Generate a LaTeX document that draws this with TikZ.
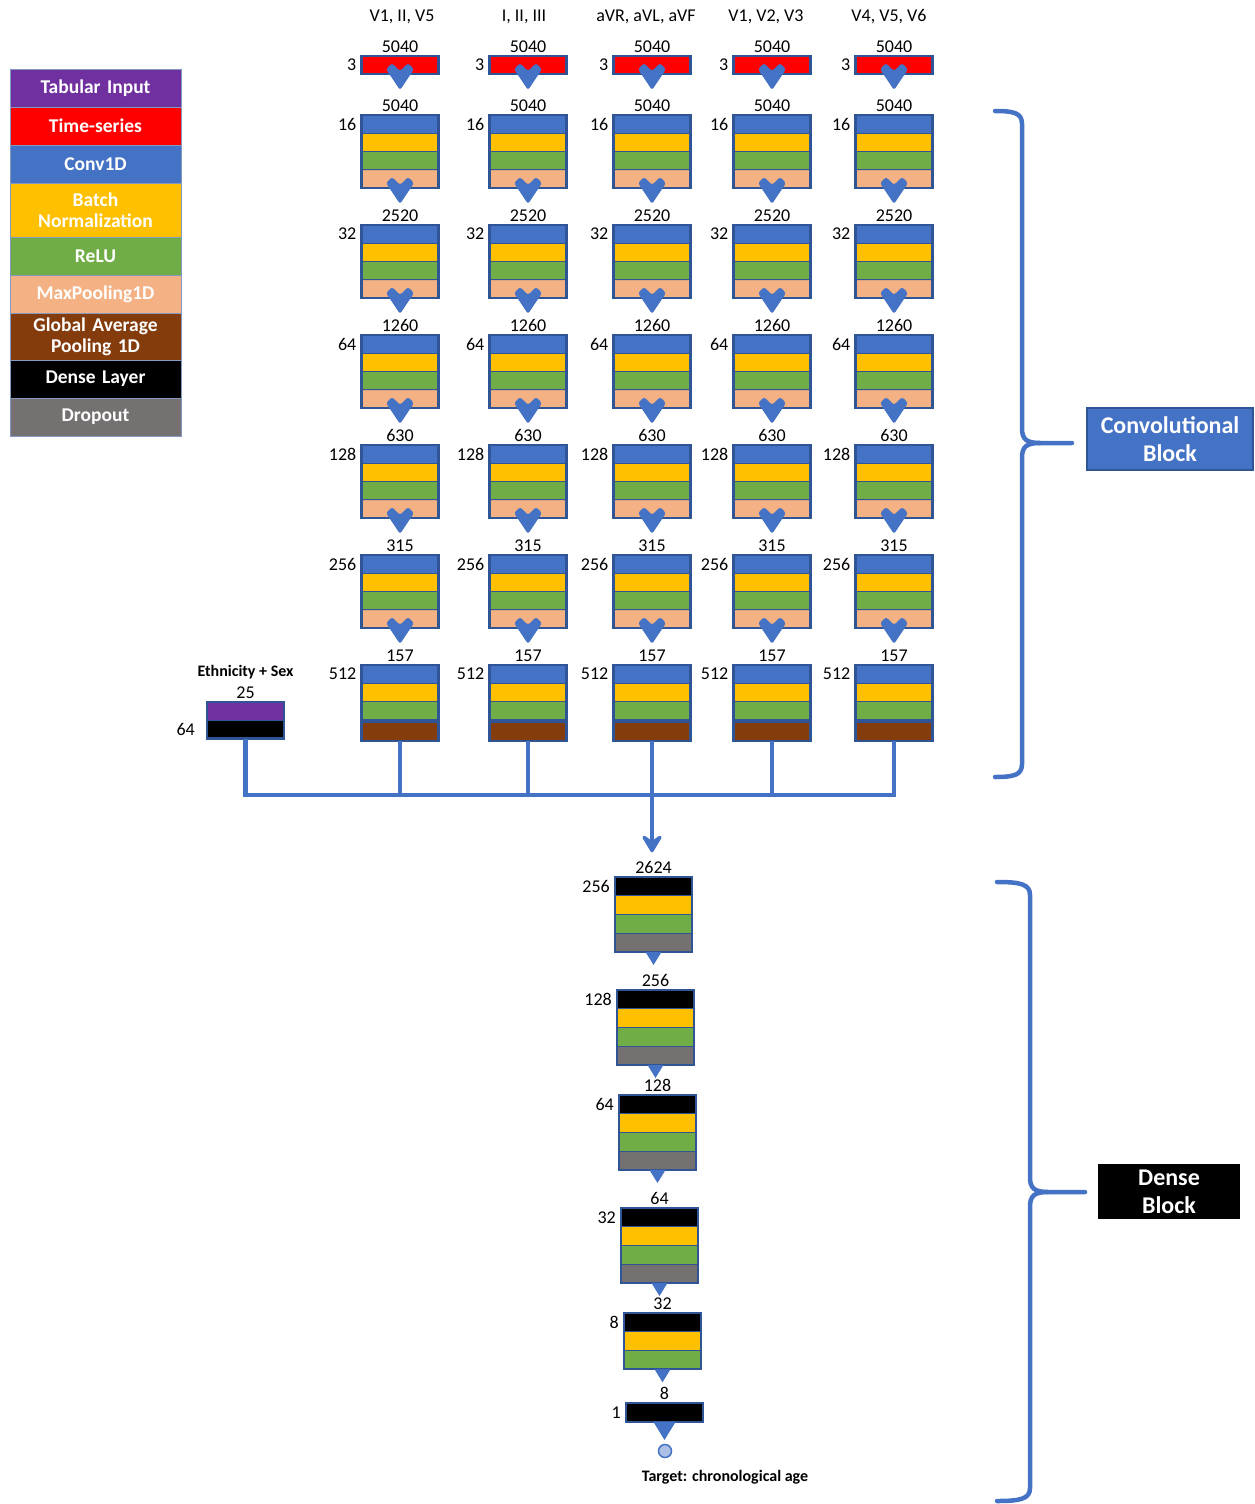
\documentclass[tikz,border=0pt]{standalone}
\usepackage{fontspec}
\setmainfont{Carlito}
\usetikzlibrary{positioning,chains,arrows.meta,calc}
\definecolor{tabpurple}{HTML}{7030A0}
\definecolor{tsred}{HTML}{FF0000}
\definecolor{convblue}{HTML}{4472C4}
\definecolor{bnyellow}{HTML}{FFC000}
\definecolor{relugreen}{HTML}{70AD47}
\definecolor{poolsalmon}{HTML}{F4B183}
\definecolor{gapbrown}{HTML}{843C0C}
\definecolor{dropgray}{HTML}{767171}
\definecolor{edgeblue}{HTML}{2F5597}
\tikzset{
  x=1pt, y=-1pt,
  stripe/.style={
    rectangle,
    draw=edgeblue, line width=1.4pt,
    fill=#1,
    minimum width=77pt,
    minimum height=18.25pt,
    inner sep=0pt, outer sep=0pt},
  stackframe/.style={draw=edgeblue, line width=2.2pt},
  dimtext/.style={inner sep=0pt, font=\fontsize{18}{20}\selectfont},
  tagtext/.style={inner sep=0pt, font=\bfseries\fontsize{16}{18}\selectfont},
  keybox/.style={
    rectangle,
    draw=edgeblue!60, line width=0.8pt,
    fill=#1, text=white,
    font=\bfseries\fontsize{19.5}{21}\selectfont,
    text width=171pt, align=center,
    minimum height=38pt,
    inner sep=0pt, outer sep=0pt,
    on chain},
  blocktag/.style={rectangle, text=white, align=center,
    font=\bfseries\fontsize{24}{28}\selectfont, line width=1.2pt},
  bus/.style={draw=convblue, line width=4.5pt},
  blockbrace/.style={draw=convblue, line width=4.5pt, line cap=round},
  chevron/.pic={\fill[convblue, rounded corners=2.5pt]
    (-14,4) -- (-8,-2) -- (0,6) -- (8,-2) -- (14,4) -- (0,25) -- cycle;},
  tri/.pic={\fill[convblue] (-8,0) -- (8,0) -- (0,13) -- cycle;},
}
\begin{document}
\begin{tikzpicture}
\useasboundingbox (0,0) rectangle (1255,1504);
% legend
\begin{scope}[start chain=going below, node distance=0pt]
  \node[keybox=tabpurple, anchor=north] (key-tab) at (95.5,69) {Tabular Input};
  \node[keybox=tsred] (key-ts) {Time-series};
  \node[keybox=convblue] (key-conv) {Conv1D};
  \node[keybox=bnyellow, minimum height=54pt] (key-bn) {Batch\\Normalization};
  \node[keybox=relugreen] (key-relu) {ReLU};
  \node[keybox=poolsalmon] (key-pool) {MaxPooling1D};
  \node[keybox=gapbrown, minimum height=47pt] (key-gap) {Global Average\\Pooling 1D};
  \node[keybox=black] (key-dense) {Dense Layer};
  \node[keybox=dropgray] (key-drop) {Dropout};
\end{scope}
% convolutional columns
\foreach \cx/\hx/\lead [count=\cl] in {400/402/{V1, II, V5}, 528/524/{I, II, III}, 652/646/{aVR, aVL, aVF}, 772/766/{V1, V2, V3}, 894/889/{V4, V5, V6}}{
  \node[dimtext] (lead-\cl) at (\hx,17) {\lead};
  \node[stripe=tsred] (c\cl-0-d) at (\cx,65) {};
  \draw[stackframe] (c\cl-0-d.north west) rectangle (c\cl-0-d.south east);
  \node[dimtext, above=3pt of c\cl-0-d] (len-\cl-0) {5040};
  \node[dimtext, left=5pt of c\cl-0-d] {3};
  \foreach \len/\ch [count=\rw] in {5040/16, 2520/32, 1260/64, 630/128, 315/256, 157/512}{
    \pgfmathtruncatemacro\prev{\rw-1}
    \ifnum\rw<6 \def\poolcol{poolsalmon}\def\gap{0pt}\else\def\poolcol{gapbrown}\def\gap{3pt}\fi
    \node[stripe=convblue, anchor=north] (c\cl-\rw-a) at (\cx,{5+110*\rw}) {};
    \node[stripe=bnyellow, below=0pt of c\cl-\rw-a] (c\cl-\rw-b) {};
    \node[stripe=relugreen, below=0pt of c\cl-\rw-b] (c\cl-\rw-c) {};
    \node[stripe=\poolcol, below=\gap of c\cl-\rw-c] (c\cl-\rw-d) {};
    \fill[edgeblue] (c\cl-\rw-c.south west) rectangle (c\cl-\rw-d.north east);
    \draw[stackframe] (c\cl-\rw-a.north west) rectangle (c\cl-\rw-d.south east);
    \node[dimtext, above=3pt of c\cl-\rw-a] (len-\cl-\rw) {\len};
    \node[dimtext, left=5pt of c\cl-\rw-a] {\ch};
    \pic at ($(c\cl-\prev-d.south)+(0,-9)$) {chevron};
  }
}
% tabular input
\node[stripe=tabpurple, anchor=north] (eth-a) at (245.5,702) {};
\node[stripe=black, below=0pt of eth-a] (eth-b) {};
\draw[stackframe] (eth-a.north west) rectangle (eth-b.south east);
\node[dimtext, above=3pt of eth-a] (eth-len) {25};
\node[tagtext, above=8pt of eth-len] (eth-txt) {Ethnicity + Sex};
\node[dimtext, left=12pt of eth-b] {64};
% dense stack
\foreach \dx/\dy/\len/\ch/\nst [count=\k] in {653.5/877/2624/256/4, 655.5/990/256/128/4, 657.5/1095/128/64/4, 659.5/1208/64/32/4, 662.5/1313/32/8/3, 664.5/1403/8/1/1}{
  \foreach \fc [count=\s] in {black, bnyellow, relugreen, dropgray}{
    \ifnum\s>\nst\relax\else
      \node[stripe=\fc, minimum height=18.75pt, anchor=north] (d\k-\s) at (\dx,{\dy+18.75*(\s-1)}) {};
    \fi
  }
  \draw[stackframe] (d\k-1.north west) rectangle (d\k-\nst.south east);
  \node[dimtext, above=3pt of d\k-1] (dlen-\k) {\len};
  \node[dimtext, left=5pt of d\k-1] {\ch};
  \ifnum\k<6 \pic at (d\k-\nst.south) {tri};\else \pic[scale=1.4] at (d\k-\nst.south) {tri};\fi
}
% merge bus
\coordinate (bus) at (0,795);
\draw[bus] (eth-b.south) -- (eth-b.south |- bus) -| (c5-6-d.south);
\foreach \cl in {1,2,4}
  \draw[bus] (c\cl-6-d.south) -- (c\cl-6-d.south |- bus);
\draw[bus, -{Stealth[length=22pt, width=26pt, inset=9pt, round]}, shorten >=9pt]
  (c3-6-d.south) -- (c3-6-d.south |- dlen-1.north);
% output
\node[circle, draw=convblue, fill=convblue!45, line width=1.5pt, minimum size=13pt, inner sep=0pt] (target) at (665,1451) {};
\node[tagtext] (target-txt) at (725,1477) {Target: chronological age};
% block braces
\node[blocktag, fill=convblue, draw=edgeblue, minimum width=166pt, minimum height=62pt] (convtag) at (1170,439) {Convolutional\\Block};
\draw[blockbrace] (995,111) .. controls (1014,111) and (1022,113) .. (1022,124) -- (1022,428)
  .. controls (1022,439) and (1026,443) .. (1040,443) -- (1072,443);
\draw[blockbrace] (1040,443) .. controls (1026,443) and (1022,447) .. (1022,458) -- (1022,764)
  .. controls (1022,775) and (1014,777) .. (995,777);
\node[blocktag, fill=black, minimum width=142pt, minimum height=55pt] (densetag) at (1169,1191.5) {Dense\\Block};
\draw[blockbrace] (997,882) .. controls (1020,882) and (1030,884) .. (1030,895) -- (1030,1177)
  .. controls (1030,1188) and (1034,1192) .. (1048,1192) -- (1085,1192);
\draw[blockbrace] (1048,1192) .. controls (1034,1192) and (1030,1196) .. (1030,1207) -- (1030,1488)
  .. controls (1030,1499) and (1020,1501) .. (997,1501);
\end{tikzpicture}
\end{document}
